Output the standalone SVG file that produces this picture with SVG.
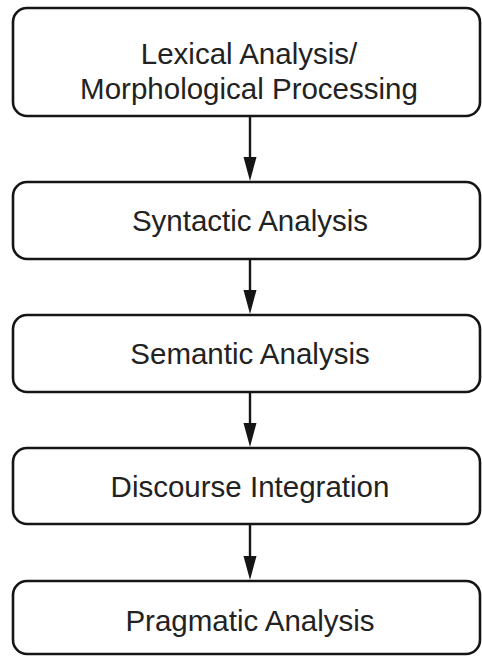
<svg xmlns="http://www.w3.org/2000/svg" width="482" height="656" viewBox="0 0 482 656">
<defs>
<style>
.box{fill:#fff;stroke:#151515;stroke-width:2.6}
.lbl{font-family:"Liberation Sans",Arial,sans-serif;font-size:29.5px;fill:#222;text-anchor:middle}
.conn{stroke:#151515;stroke-width:2.4;fill:none}
.head{fill:#151515}
</style>
</defs>
<rect width="482" height="656" fill="#fff"/>
<g id="connectors">
<line class="conn" x1="250" y1="117" x2="250" y2="160"/>
<polygon class="head" points="243.5,157 256.5,157 250,181"/>
<line class="conn" x1="250" y1="260" x2="250" y2="293"/>
<polygon class="head" points="243.5,290 256.5,290 250,314"/>
<line class="conn" x1="250" y1="393" x2="250" y2="426"/>
<polygon class="head" points="243.5,423 256.5,423 250,447"/>
<line class="conn" x1="250" y1="525" x2="250" y2="559"/>
<polygon class="head" points="243.5,556 256.5,556 250,580"/>
</g>
<g id="lexical">
<rect class="box" x="13" y="8" width="467" height="108" rx="14"/>
<text class="lbl" x="249" y="64">Lexical Analysis/</text>
<text class="lbl" x="249" y="99">Morphological Processing</text>
</g>
<g id="syntactic">
<rect class="box" x="13" y="182" width="467" height="77" rx="14"/>
<text class="lbl" x="250" y="231">Syntactic Analysis</text>
</g>
<g id="semantic">
<rect class="box" x="13" y="315" width="467" height="77" rx="14"/>
<text class="lbl" x="250" y="364">Semantic Analysis</text>
</g>
<g id="discourse">
<rect class="box" x="13" y="448" width="467" height="76" rx="14"/>
<text class="lbl" x="250" y="497">Discourse Integration</text>
</g>
<g id="pragmatic">
<rect class="box" x="13" y="581" width="467" height="73" rx="14"/>
<text class="lbl" x="250" y="631">Pragmatic Analysis</text>
</g>
</svg>
